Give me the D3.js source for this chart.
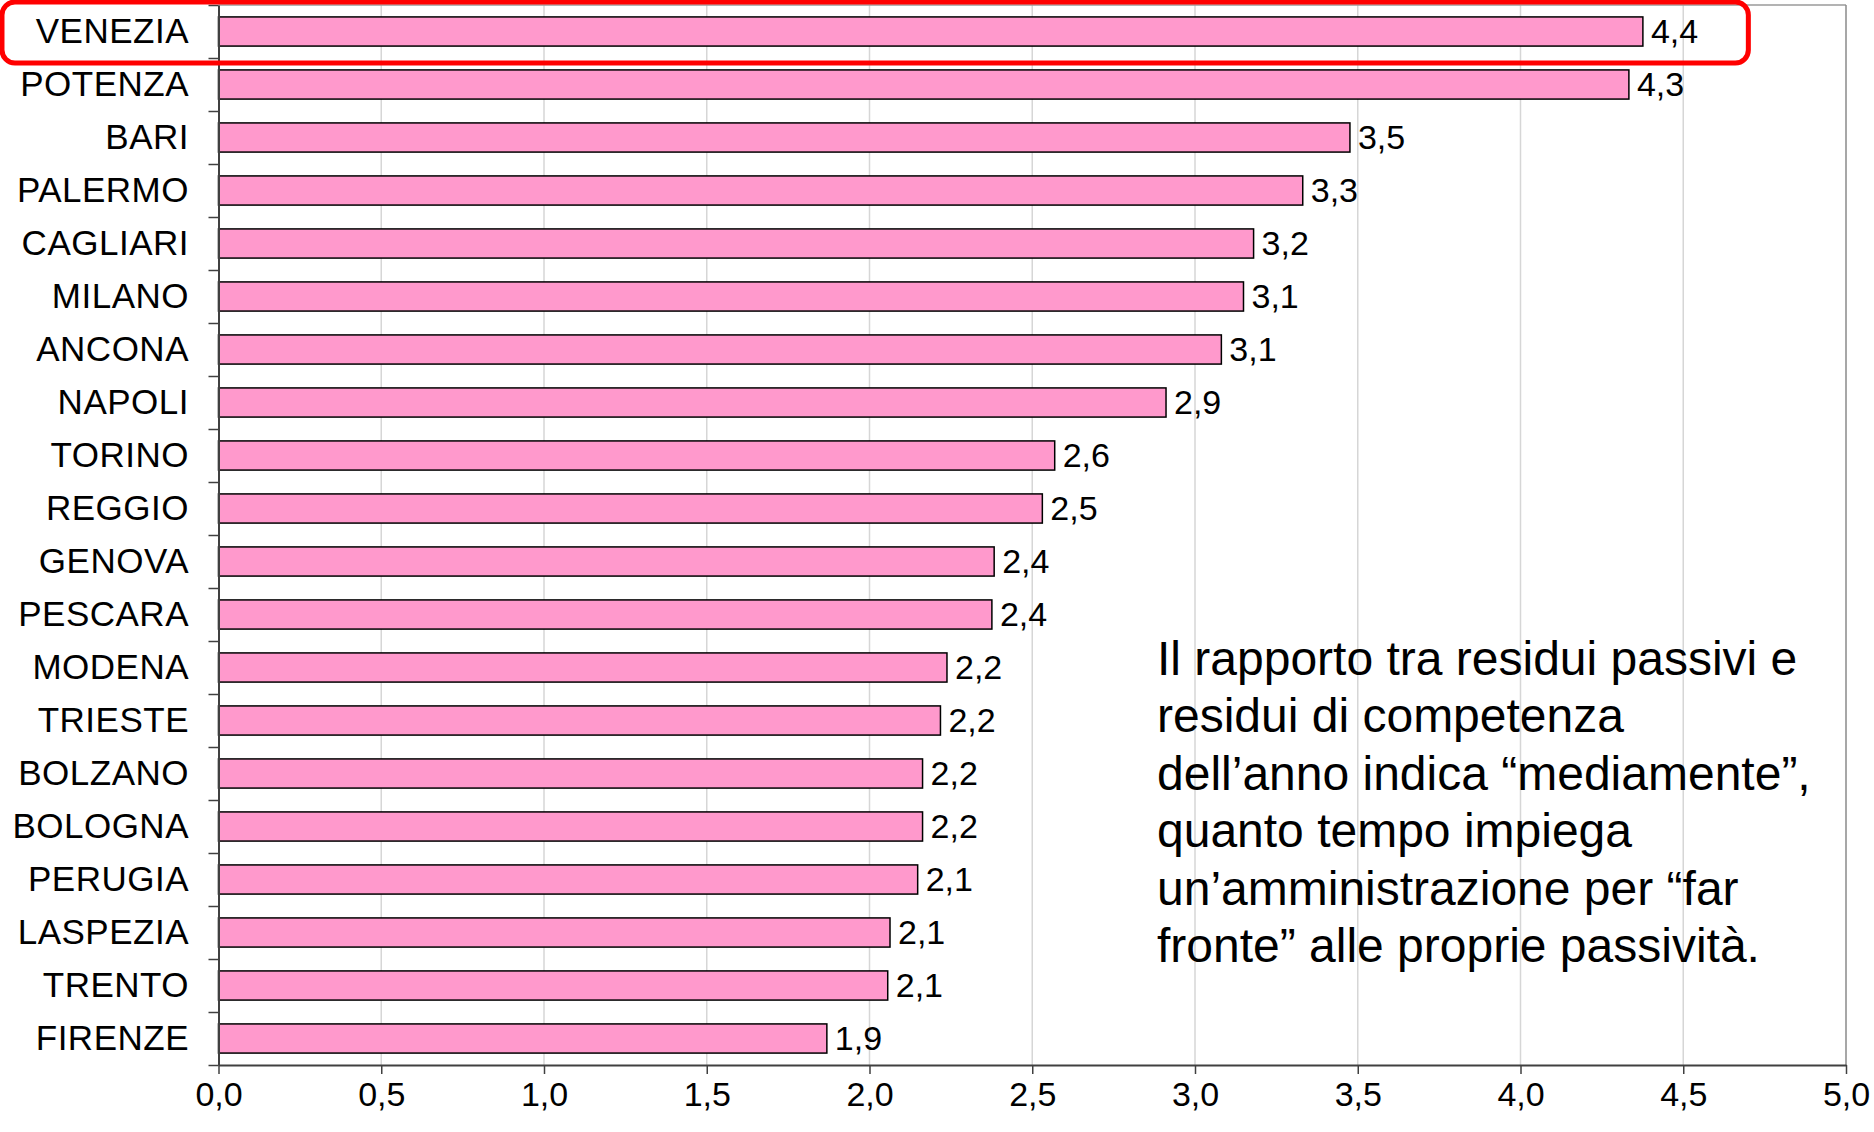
<!DOCTYPE html>
<html>
<head>
<meta charset="utf-8">
<script src="https://cdn.jsdelivr.net/npm/d3@7"></script>
<style>
  html, body { margin: 0; padding: 0; background: #ffffff; }
  svg { display: block; }
  text { font-family: "Liberation Sans", Arial, sans-serif; fill: #000; }
</style>
</head>
<body>
<svg id="chart" width="1874" height="1132"></svg>
<script>
const categories = ["VENEZIA","POTENZA","BARI","PALERMO","CAGLIARI","MILANO","ANCONA","NAPOLI","TORINO","REGGIO","GENOVA","PESCARA","MODENA","TRIESTE","BOLZANO","BOLOGNA","PERUGIA","LASPEZIA","TRENTO","FIRENZE"];
const values = [4.376,4.333,3.476,3.331,3.180,3.149,3.081,2.911,2.569,2.531,2.383,2.376,2.238,2.218,2.163,2.163,2.148,2.063,2.056,1.869];
const xTicks = [0,0.5,1,1.5,2,2.5,3,3.5,4,4.5,5];
const noteLines = [
  "Il rapporto tra residui passivi e",
  "residui di competenza",
  "dell\u2019anno indica \u201cmediamente\u201d,",
  "quanto tempo impiega",
  "un\u2019amministrazione per \u201cfar",
  "fronte\u201d alle proprie passivit\u00e0."
];
const highlighted = "VENEZIA";

(function () {
const svg = d3.select("#chart");
const mLeft = 218.5, mRight = 1846, mTop = 5, mBottom = 1065;

const x = d3.scaleLinear().domain([0, 5]).range([mLeft, mRight]);
const y = d3.scaleBand().domain(categories).range([mTop, mBottom]).paddingInner(0.45).paddingOuter(0.225);
const fmt = v => d3.format(".1f")(v).replace(".", ",");

// gridlines
svg.append("g").selectAll("line").data(xTicks.filter(t => t > 0 && t < 5)).join("line")
  .attr("x1", d => x(d)).attr("x2", d => x(d))
  .attr("y1", mTop).attr("y2", mBottom)
  .attr("stroke", "#d6d6d6").attr("stroke-width", 1.5);

// plot border (top & right)
svg.append("line").attr("x1", x(0)).attr("x2", x(5)).attr("y1", mTop).attr("y2", mTop)
  .attr("stroke", "#9a9a9a").attr("stroke-width", 1.5);
svg.append("line").attr("x1", x(5)).attr("x2", x(5)).attr("y1", mTop).attr("y2", mBottom)
  .attr("stroke", "#8a8a8a").attr("stroke-width", 1.5);

// bars
svg.append("g").selectAll("rect").data(categories).join("rect")
  .attr("x", x(0))
  .attr("y", d => y(d))
  .attr("width", (d, i) => x(values[i]) - x(0))
  .attr("height", y.bandwidth())
  .attr("fill", "#ff99cc")
  .attr("stroke", "#000").attr("stroke-width", 1.5);

// value labels
svg.append("g").selectAll("text").data(categories).join("text")
  .attr("x", (d, i) => x(values[i]) + 8)
  .attr("y", d => y(d) + y.bandwidth() / 2)
  .attr("dy", "0.35em")
  .attr("font-size", 34)
  .text((d, i) => fmt(values[i]));

// category labels
svg.append("g").selectAll("text").data(categories).join("text")
  .attr("x", 189)
  .attr("y", d => y(d) + y.bandwidth() / 2)
  .attr("dy", "0.32em")
  .attr("text-anchor", "end")
  .attr("font-size", 35)
  .attr("letter-spacing", 0.5)
  .text(d => d);

// y axis with ticks at category boundaries
const yb = d3.scaleLinear().domain([0, categories.length]).range([mTop, mBottom]);
const yAxis = svg.append("g").attr("transform", `translate(${x(0)},0)`)
  .call(d3.axisLeft(yb).tickValues(d3.range(0, categories.length + 1)).tickSize(10).tickSizeOuter(0).tickFormat(""));
yAxis.select(".domain").attr("stroke", "#404040").attr("stroke-width", 2);
yAxis.selectAll(".tick line").attr("stroke", "#404040").attr("stroke-width", 1.5);

// x axis
const xAxis = svg.append("g").attr("transform", `translate(0,${mBottom})`)
  .call(d3.axisBottom(x).tickValues(xTicks).tickSize(9).tickSizeOuter(0).tickPadding(8).tickFormat(fmt));
xAxis.select(".domain").attr("stroke", "#404040").attr("stroke-width", 2);
xAxis.selectAll(".tick line").attr("stroke", "#404040").attr("stroke-width", 1.5);
xAxis.selectAll(".tick text").attr("font-size", 34)
  .attr("font-family", "'Liberation Sans', Arial, sans-serif").attr("fill", "#000");

// highlight box around first category
const hy = y(highlighted);
svg.append("rect")
  .attr("x", 2).attr("y", hy - 15)
  .attr("width", x(4.7) - 2).attr("height", y.bandwidth() + 32)
  .attr("rx", 13).attr("ry", 13)
  .attr("fill", "none").attr("stroke", "#ff0000").attr("stroke-width", 5);

// annotation text
svg.append("g").selectAll("text").data(noteLines).join("text")
  .attr("x", 1157)
  .attr("y", (d, i) => 675 + i * 57.4)
  .attr("font-size", 48)
  .text(d => d);
})();
</script>
</body>
</html>
